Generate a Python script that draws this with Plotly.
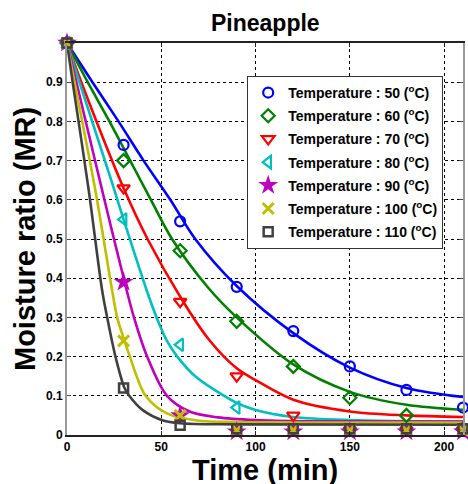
import plotly.graph_objects as go

# ---------------- data ----------------
temps = [50, 60, 70, 80, 90, 100, 110]
t_obs = [0, 30, 60, 90, 120, 150, 180, 210]
mr_obs = {
    50:  [1, 0.74, 0.545, 0.378, 0.265, 0.175, 0.115, 0.07],
    60:  [1, 0.70, 0.47, 0.29, 0.175, 0.095, 0.05, 0.015],
    70:  [1, 0.63, 0.34, 0.15, 0.05, 0.012, 0.012, 0.012],
    80:  [1, 0.55, 0.23, 0.07, 0.013, 0.013, 0.013, 0.012],
    90:  [1, 0.39, 0.05, 0.008, 0.008, 0.008, 0.008, 0.008],
    100: [1, 0.24, 0.05, 0.012, 0.012, 0.012, 0.012, 0.012],
    110: [1, 0.12, 0.025, 0.016, 0.016, 0.016, 0.016, 0.016],
}
# fitted curves
t_fit = {
    50:  [0, 13.5, 27.3, 40.6, 54.8, 68, 90, 120, 150, 180, 210],
    60:  [0, 11, 22.5, 33.5, 44.5, 55.7, 75, 90, 120, 150, 180, 210],
    70:  [0, 7.6, 30, 42.7, 61, 75, 90, 100, 120, 150, 180, 210],
    80:  [0, 6.6, 23.8, 30, 42.2, 47.5, 53, 58.5, 68, 90, 100, 120, 150, 210],
    90:  [0, 5.0, 18.6, 31.6, 35.5, 42.5, 53, 65, 80, 100, 130, 210],
    100: [0, 4.0, 15, 23.9, 26.6, 30.5, 33, 41.7, 53, 69, 90, 120, 210],
    110: [0, 3.0, 11.5, 18.6, 21.3, 25.7, 30.5, 33, 40, 51, 60, 90, 210],
}
mr_fit = {
    50:  [1, 0.9, 0.8, 0.7, 0.6, 0.5, 0.38, 0.26, 0.172, 0.12, 0.097],
    60:  [1, 0.9, 0.8, 0.7, 0.6, 0.5, 0.375, 0.30, 0.18, 0.11, 0.077, 0.064],
    70:  [1, 0.9, 0.63, 0.5, 0.345, 0.245, 0.17, 0.14, 0.09, 0.06, 0.05, 0.046],
    80:  [1, 0.9, 0.645, 0.55, 0.37, 0.3, 0.24, 0.2, 0.15, 0.082, 0.064, 0.046, 0.038, 0.034],
    90:  [1, 0.9, 0.625, 0.37, 0.3, 0.2, 0.1, 0.06, 0.045, 0.038, 0.035, 0.034],
    100: [1, 0.9, 0.625, 0.37, 0.3, 0.24, 0.205, 0.1, 0.055, 0.037, 0.033, 0.032, 0.032],
    110: [1, 0.9, 0.625, 0.37, 0.3, 0.2, 0.12, 0.1, 0.064, 0.037, 0.03, 0.027, 0.026],
}
x_ticks = [0, 50, 100, 150, 200]
y_ticks = [0, 0.1, 0.2, 0.3, 0.4, 0.5, 0.6, 0.7, 0.8, 0.9]
y_tick_text = ["0", "0.1", "0.2", "0.3", "0.4", "0.5", "0.6", "0.7", "0.8", "0.9"]

# ---------------- styles ----------------
colors = {50: "rgb(0,0,255)", 60: "rgb(0,128,0)", 70: "rgb(255,0,0)", 80: "rgb(0,191,191)",
          90: "rgb(191,0,191)", 100: "rgb(191,191,0)", 110: "rgb(64,64,64)"}
symbols = {50: "circle-open", 60: "diamond-open", 70: "triangle-down-open", 80: "triangle-left-open",
           90: "star", 100: "x-thin-open", 110: "square-open"}
msize = {50: 10, 60: 10, 70: 11, 80: 11, 90: 15, 100: 11, 110: 9}
mline = {50: 2.2, 60: 2.2, 70: 2.2, 80: 2.2, 90: 0, 100: 3, 110: 2.5}

FONT = "Arial, Liberation Sans, sans-serif"
fig = go.Figure()

for T in temps:
    fig.add_trace(go.Scatter(
        x=t_fit[T], y=mr_fit[T], mode="lines",
        line=dict(color=colors[T], width=2.6, shape="spline", smoothing=0.9),
        showlegend=False, hoverinfo="skip"))

for T in temps:
    fig.add_trace(go.Scatter(
        x=t_obs, y=mr_obs[T], mode="markers",
        marker=dict(symbol=symbols[T], size=msize[T], color=colors[T],
                    line=dict(color=colors[T], width=mline[T])),
        name=f"<b>Temperature : {T} (<sup>o</sup>C)</b>",
        legendgroup=str(T), cliponaxis=False))

fig.update_layout(
    width=468, height=484,
    margin=dict(l=67, r=5, t=43, b=49),
    paper_bgcolor="white", plot_bgcolor="white",
    font=dict(family=FONT, color="black"),
    xaxis=dict(range=[0, 210], tickvals=x_ticks, ticktext=[f"<b>{v}</b>" for v in x_ticks],
               tickfont=dict(size=12), showgrid=True, gridcolor="black", griddash="dot", gridwidth=1,
               showline=True, linecolor="#222", linewidth=1.5, mirror="ticks",
               ticks="inside", ticklen=4, tickcolor="#222", zeroline=False, automargin=False),
    yaxis=dict(range=[0, 1], tickvals=y_ticks, ticktext=[f"<b>{v}</b>" for v in y_tick_text],
               tickfont=dict(size=12), showgrid=True, gridcolor="black", griddash="dot", gridwidth=1,
               showline=True, linecolor="#999", linewidth=2, mirror="ticks",
               ticks="inside", ticklen=4, tickcolor="#444", zeroline=False, automargin=False),
    legend=dict(x=0.455, y=0.916, xanchor="left", yanchor="top",
                bgcolor="white", bordercolor="#333", borderwidth=1,
                font=dict(size=14, family=FONT), tracegroupgap=2,
                traceorder="grouped", itemsizing="trace"),
    annotations=[
        dict(text="<b>Pineapple</b>", xref="paper", yref="paper", x=0.5, y=1.051,
             xanchor="center", yanchor="middle", showarrow=False, font=dict(size=23)),
        dict(text="<b>Time (min)</b>", xref="paper", yref="paper", x=0.5, y=-0.089,
             xanchor="center", yanchor="middle", showarrow=False, font=dict(size=29)),
        dict(text="<b>Moisture ratio (MR)</b>", xref="paper", yref="paper", x=-0.106, y=0.5,
             xanchor="center", yanchor="middle", textangle=-90, showarrow=False, font=dict(size=29)),
    ],
)

fig.write_html("out.html", config={"displayModeBar": False},
               post_script="document.body.style.margin='0';document.body.style.overflow='hidden';")
